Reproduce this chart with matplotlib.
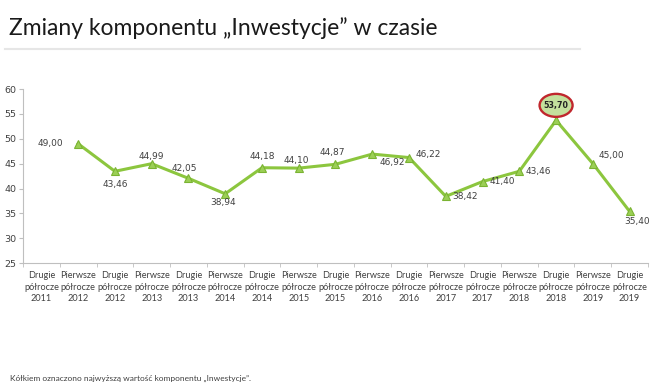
import matplotlib
matplotlib.use("Agg")
import matplotlib.pyplot as plt
from matplotlib.patches import Ellipse
from matplotlib.transforms import offset_copy
import numpy as np

# data
halves = ["Drugie", "Pierwsze", "Drugie", "Pierwsze", "Drugie", "Pierwsze", "Drugie",
          "Pierwsze", "Drugie", "Pierwsze", "Drugie", "Pierwsze", "Drugie", "Pierwsze",
          "Drugie", "Pierwsze", "Drugie"]
years = ["2011", "2012", "2012", "2013", "2013", "2014", "2014", "2015", "2015",
         "2016", "2016", "2017", "2017", "2018", "2018", "2019", "2019"]
values = [np.nan, 49.00, 43.46, 44.99, 42.05, 38.94, 44.18, 44.10, 44.87,
          46.92, 46.22, 38.42, 41.40, 43.46, 53.70, 45.00, 35.40]
labels = [h + "\npółrocze\n" + y for h, y in zip(halves, years)]

# label offsets in pixels (dx, dy) for each point
offsets = [None, (-28, 0), (0, -13), (0, 7), (-4, 10), (-2, -9), (0, 11), (-2, 8),
           (-3, 12), (20, -8), (19, 3), (19, 0), (20, 0), (19, 0), (0, 15), (19, 8), (7, -10)]

green = "#8cc63e"
text_col = "#404040"
axis_col = "#bfbfbf"

fig = plt.figure(figsize=(6.55, 3.87), dpi=100)
fig.patch.set_facecolor("white")

fig.text(0.013, 0.955, "Zmiany komponentu \u201eInwestycje\u201d w czasie",
         fontsize=16.5, family="Lato", color="#1a1a1a", va="top", ha="left")
fig.add_artist(plt.Line2D([0.008, 0.885], [0.873, 0.873], color="#e6e6e6", lw=1.5,
                          transform=fig.transFigure))
fig.text(0.016, 0.013, "Kółkiem oznaczono najwyższą wartość komponentu \u201eInwestycje\u201d.",
         fontsize=6.0, family="Lato", color=text_col, va="bottom", ha="left")

ax = fig.add_axes([0.0351, 0.320, 0.9542, 0.450])
x = np.arange(len(values))
ax.plot(x, values, color=green, lw=2.2, marker="^", ms=6,
        markerfacecolor="#9bcf55", markeredgecolor="#7ab332", markeredgewidth=0.8)

ax.set_xlim(-0.5, len(values) - 0.5)
ax.set_ylim(25, 60)
ax.set_yticks(range(25, 61, 5))
ax.tick_params(axis="y", labelsize=6.8, colors=text_col, length=3, color=axis_col, pad=2)

ax.set_xticks(x)
ax.set_xticklabels(labels, fontsize=6.6, family="Lato", color=text_col, linespacing=1.3)
ax.set_xticks(np.arange(-0.5, len(values), 1), minor=True)
ax.tick_params(axis="x", which="major", length=0, pad=6)
ax.tick_params(axis="x", which="minor", length=3, color=axis_col)

for side in ["top", "right"]:
    ax.spines[side].set_visible(False)
for side in ["left", "bottom"]:
    ax.spines[side].set_color(axis_col)
    ax.spines[side].set_linewidth(0.8)

# pixels per data unit, to size the highlight ellipse
bbox = ax.get_position()
px_x = bbox.width * fig.get_figwidth() * fig.dpi / (len(values))
px_y = bbox.height * fig.get_figheight() * fig.dpi / 35.0

vmax = np.nanmax(values)
for i, v in enumerate(values):
    if np.isnan(v):
        continue
    txt = f"{v:.2f}".replace(".", ",")
    dx, dy = offsets[i]
    if v == vmax:
        tr = offset_copy(ax.transData, fig=fig, x=dx, y=dy, units="dots")
        ax.add_patch(Ellipse((i, v), 33 / px_x, 23 / px_y, transform=tr,
                             fc="#c4e09d", ec="#c0272d", lw=1.7, zorder=5, clip_on=False))
        ax.annotate(txt, (i, v), xytext=(dx, dy), textcoords="offset pixels",
                    ha="center", va="center", fontsize=5.7, fontweight="bold",
                    color="#222222", zorder=6)
    else:
        ax.annotate(txt, (i, v), xytext=(dx, dy), textcoords="offset pixels",
                    ha="center", va="center", fontsize=6.5, color=text_col)

fig.savefig("out.png", dpi=100)
